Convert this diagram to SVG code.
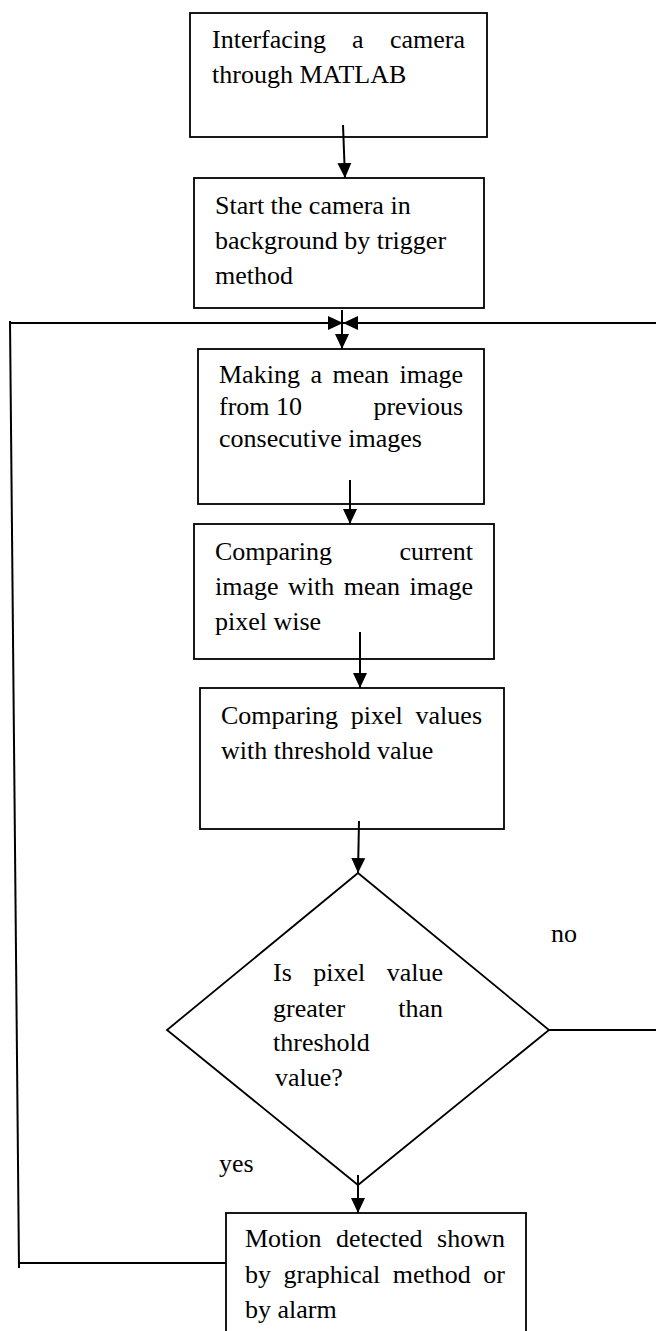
<svg xmlns="http://www.w3.org/2000/svg" width="656" height="1331" viewBox="0 0 656 1331">
<defs>
<marker id="arr" markerUnits="userSpaceOnUse" markerWidth="16" markerHeight="16" viewBox="0 0 16 16" refX="15" refY="8" orient="auto">
<path d="M0,1 L15,8 L0,15 z" fill="#000"/>
</marker>
</defs>
<style>
.box{fill:#fff;stroke:#000;stroke-width:1.8}
.ln{fill:none;stroke:#000;stroke-width:2}
.t{font-family:"Liberation Serif","Times New Roman",serif;font-size:26px;fill:#000}
.e{text-anchor:end}
</style>
<rect width="656" height="1331" fill="#fff"/>
<g id="n1">
<rect class="box" x="190" y="13" width="297" height="124"/>
<text class="t" x="212" y="48">Interfacing</text>
<text class="t" x="352" y="48">a</text>
<text class="t e" x="465" y="48">camera</text>
<text class="t" x="212" y="83">through MATLAB</text>
</g>
<g id="n2">
<rect class="box" x="194" y="178" width="290" height="130"/>
<text class="t" x="215" y="214">Start the camera in</text>
<text class="t" x="215" y="249">background by trigger</text>
<text class="t" x="215" y="284">method</text>
</g>
<g id="n3">
<rect class="box" x="198" y="349" width="286" height="155"/>
<text class="t" x="219" y="383">Making</text>
<text class="t" x="310.5" y="383">a</text>
<text class="t" x="332.6" y="383">mean</text>
<text class="t e" x="463" y="383">image</text>
<text class="t" x="219" y="415">from 10</text>
<text class="t e" x="463" y="415">previous</text>
<text class="t" x="219" y="447">consecutive images</text>
</g>
<g id="n4">
<rect class="box" x="194" y="524" width="300" height="135"/>
<text class="t" x="215" y="560">Comparing</text>
<text class="t e" x="473" y="560">current</text>
<text class="t" x="215" y="595">image</text>
<text class="t" x="288" y="595">with</text>
<text class="t" x="343.7" y="595">mean</text>
<text class="t e" x="473" y="595">image</text>
<text class="t" x="215" y="630">pixel wise</text>
</g>
<g id="n5">
<rect class="box" x="200" y="688" width="304" height="141"/>
<text class="t" x="221" y="724">Comparing</text>
<text class="t" x="350.8" y="724">pixel</text>
<text class="t e" x="482" y="724">values</text>
<text class="t" x="221" y="759">with threshold value</text>
</g>
<g id="n6">
<polygon class="box" points="358,873 549,1030 358,1185 167,1030"/>
<text class="t" x="273" y="981">Is</text>
<text class="t" x="313.2" y="981">pixel</text>
<text class="t e" x="443" y="981">value</text>
<text class="t" x="273" y="1017">greater</text>
<text class="t e" x="443" y="1017">than</text>
<text class="t" x="273" y="1051">threshold</text>
<text class="t" x="275" y="1086">value?</text>
</g>
<g id="n7">
<rect class="box" x="226" y="1213" width="300" height="130"/>
<text class="t" x="245" y="1247">Motion</text>
<text class="t" x="336" y="1247">detected</text>
<text class="t e" x="505" y="1247">shown</text>
<text class="t" x="245" y="1283">by</text>
<text class="t" x="283.5" y="1283">graphical</text>
<text class="t" x="392.7" y="1283">method</text>
<text class="t e" x="505" y="1283">or</text>
<text class="t" x="245" y="1318">by alarm</text>
</g>
<g id="labels">
<text class="t" x="551" y="942">no</text>
<text class="t" x="219" y="1172">yes</text>
</g>
<g id="connectors">
<line class="ln" x1="343" y1="125" x2="345" y2="178" marker-end="url(#arr)"/>
<line class="ln" x1="342" y1="310" x2="342" y2="349" marker-end="url(#arr)"/>
<line class="ln" x1="350" y1="480" x2="350" y2="524" marker-end="url(#arr)"/>
<line class="ln" x1="360" y1="632" x2="360" y2="688" marker-end="url(#arr)"/>
<line class="ln" x1="359" y1="821" x2="358" y2="873" marker-end="url(#arr)"/>
<line class="ln" x1="358" y1="1175" x2="358" y2="1213" marker-end="url(#arr)"/>
<line class="ln" x1="226" y1="1263" x2="19" y2="1263"/>
<line class="ln" x1="19" y1="1268" x2="10" y2="321" stroke-width="1.6"/>
<line class="ln" x1="10" y1="323" x2="343" y2="323" stroke-width="2.5" marker-end="url(#arr)"/>
<line class="ln" x1="549" y1="1030" x2="656" y2="1030"/>
<line class="ln" x1="656" y1="323" x2="343" y2="323" stroke-width="2.5" marker-end="url(#arr)"/>
</g>
</svg>
